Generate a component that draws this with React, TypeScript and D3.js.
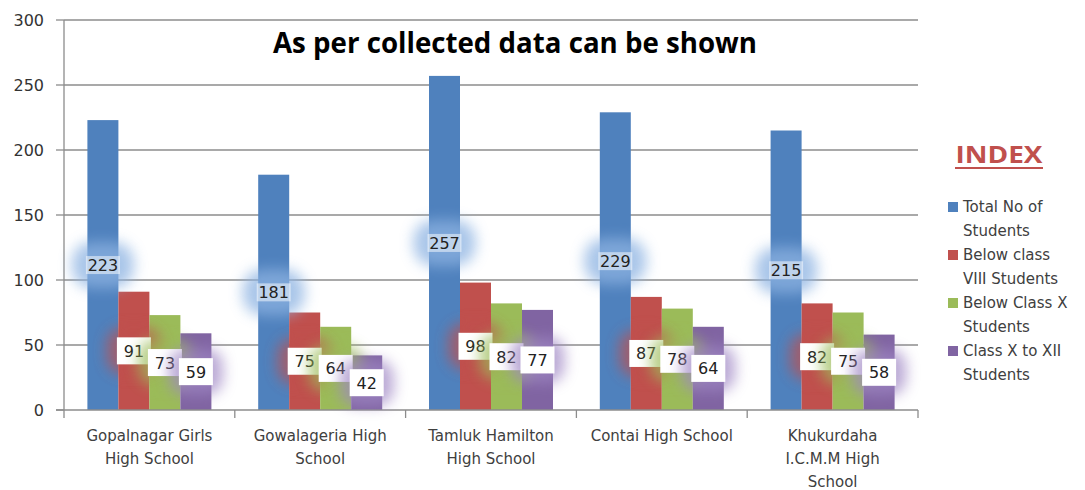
import React from 'react';
import * as d3 from 'd3';

const schools = [
  'Gopalnagar Girls|High School',
  'Gowalageria High|School',
  'Tamluk Hamilton|High School',
  'Contai High School',
  'Khukurdaha|I.C.M.M High|School',
];
const seriesNames = [
  'Total No of|Students',
  'Below class|VIII Students',
  'Below Class X|Students',
  'Class X to XII|Students',
];
const totalStudents = [223, 181, 257, 229, 215];
const belowVIII = [91, 75, 98, 87, 82];
const belowX = [73, 64, 82, 78, 75];
const classXtoXII = [59, 42, 77, 64, 58];
const yTicks = [0, 50, 100, 150, 200, 250, 300];

const colors = ['#4f81bd', '#c0504d', '#9bbb59', '#8064a2'];
const glowColors = ['#8db3e2', '#c0504d', '#9bbb59', '#9f86c4'];
const values = [totalStudents, belowVIII, belowX, classXtoXII];

const W = 1085;
const H = 490;
const left = 64;
const right = 918;
const top = 20;
const bottom = 410;
const font = '"DejaVu Sans", Verdana, sans-serif';

export default function App() {
  const x0 = d3.scaleBand<number>().domain(d3.range(schools.length)).range([left, right]);
  const bw = x0.bandwidth();
  const x1 = d3.scaleBand<number>().domain(d3.range(4)).range([bw * 0.137, bw * 0.863]);
  const y = d3.scaleLinear().domain([0, 300]).range([bottom, top]);

  return (
    <svg width={W} height={H} style={{ position: 'absolute', left: 0, top: 0, background: '#fff' }}>
      <defs>
        <filter id="glow" x="-50%" y="-50%" width="200%" height="200%">
          <feGaussianBlur stdDeviation="7" />
        </filter>
      </defs>

      {/* grid */}
      {yTicks.filter((t) => t > 0).map((t) => (
        <line key={t} x1={left} x2={right} y1={y(t)} y2={y(t)} stroke="#8c8c8c" strokeWidth={1.3} />
      ))}
      {yTicks.map((t) => (
        <g key={'yt' + t}>
          <line x1={left - 8} x2={left} y1={y(t)} y2={y(t)} stroke="#8c8c8c" strokeWidth={1.3} />
          <text x={44} y={y(t) + 6} textAnchor="end" fontFamily={font} fontSize={16} fill="#333">
            {t}
          </text>
        </g>
      ))}

      {/* bars */}
      {values.map((vals, s) =>
        vals.map((v, i) => (
          <rect
            key={`b${s}-${i}`}
            x={(x0(i) as number) + (x1(s) as number)}
            y={y(v)}
            width={x1.bandwidth()}
            height={y(0) - y(v)}
            fill={colors[s]}
          />
        ))
      )}

      {/* axes */}
      <line x1={left} x2={left} y1={top} y2={bottom + 8} stroke="#8c8c8c" strokeWidth={1.3} />
      <line x1={left - 8} x2={right} y1={bottom} y2={bottom} stroke="#8c8c8c" strokeWidth={1.3} />
      {d3.range(schools.length).map((i) => (
        <line
          key={'xt' + i}
          x1={(x0(i) as number) + bw}
          x2={(x0(i) as number) + bw}
          y1={bottom}
          y2={bottom + 8}
          stroke="#8c8c8c"
          strokeWidth={1.3}
        />
      ))}
      {schools.map((s, i) => (
        <text
          key={'xl' + i}
          x={(x0(i) as number) + bw / 2}
          y={441}
          textAnchor="middle"
          fontFamily={font}
          fontSize={15}
          fill="#404040"
        >
          {s.split('|').map((ln, k) => (
            <tspan key={k} x={(x0(i) as number) + bw / 2} dy={k === 0 ? 0 : 23}>
              {ln}
            </tspan>
          ))}
        </text>
      ))}

      {/* data labels */}
      {d3.range(schools.length).map((i) =>
        values.map((vals, s) => {
          const v = vals[i];
          const cx = (x0(i) as number) + (x1(s) as number) + x1.bandwidth() / 2;
          const cy = y(v / 2);
          if (s === 0) {
            return (
              <g key={`l${s}-${i}`}>
                <rect x={cx - 31} y={cy - 23} width={62} height={46} rx={20} fill={glowColors[0]} opacity={0.75} filter="url(#glow)" />
                <rect x={cx - 17} y={cy - 9} width={34} height={18} fill="#fff" opacity={0.5} />
                <text x={cx} y={cy + 6} textAnchor="middle" fontFamily={font} fontSize={16} fill="#222">
                  {v}
                </text>
              </g>
            );
          }
          return (
            <g key={`l${s}-${i}`}>
              <rect x={cx - 27} y={cy - 23} width={54} height={46} rx={16} fill={glowColors[s]} opacity={0.7} filter="url(#glow)" />
              <rect x={cx - 17} y={cy - 13.5} width={34} height={27} fill="#fff" />
              <text x={cx} y={cy + 6} textAnchor="middle" fontFamily={font} fontSize={16} fill="#222">
                {v}
              </text>
            </g>
          );
        })
      )}

      {/* title */}
      <text
        x={515}
        y={53}
        textAnchor="middle"
        fontFamily='"Open Sans", sans-serif'
        fontWeight="bold"
        fontSize={29}
        fill="#000"
        textLength={484}
        lengthAdjust="spacingAndGlyphs"
      >
        As per collected data can be shown
      </text>

      {/* legend */}
      <text x={999} y={163} textAnchor="middle" fontFamily='"Open Sans", sans-serif' fontWeight="bold" fontSize={24} fill="#c0504d" textLength={87} lengthAdjust="spacingAndGlyphs">
        INDEX
      </text>
      <line x1={955} x2={1043} y1={168} y2={168} stroke="#c0504d" strokeWidth={2} />
      {seriesNames.map((name, s) => {
        const yy = 212 + s * 48;
        return (
          <g key={'lg' + s}>
            <rect x={948} y={yy - 10} width={10} height={10} fill={colors[s]} />
            <text fontFamily={font} fontSize={15} fill="#404040">
              {name.split('|').map((ln, k) => (
                <tspan key={k} x={963} y={yy + k * 24}>
                  {ln}
                </tspan>
              ))}
            </text>
          </g>
        );
      })}
    </svg>
  );
}
